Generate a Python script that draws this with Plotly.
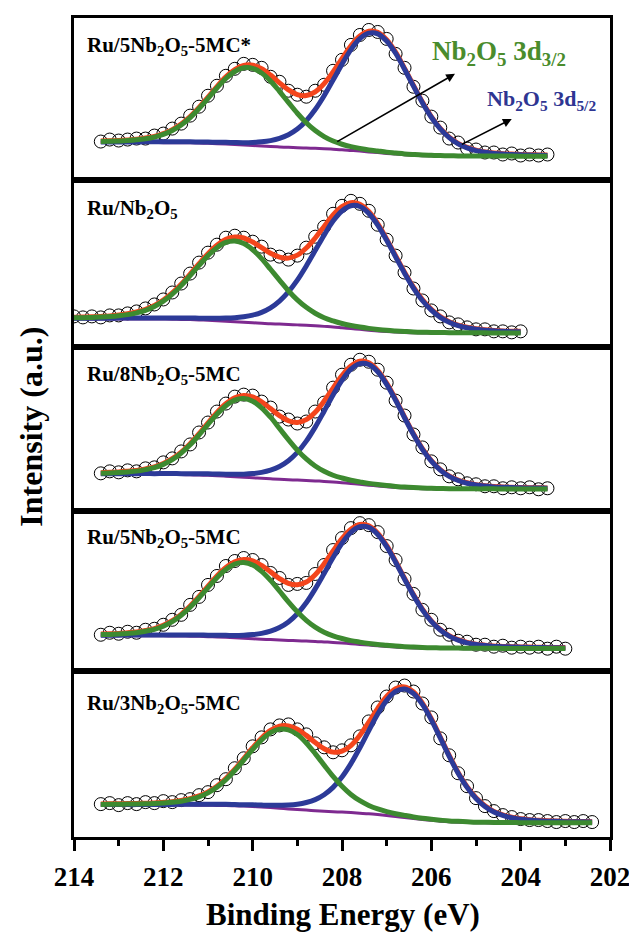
import plotly.graph_objects as go

# ---------------- data ----------------
E_STEP = 0.2  # eV spacing of the acquisition grid

sample_labels = [
    "Ru/5Nb<sub>2</sub>O<sub>5</sub>-5MC*",
    "Ru/Nb<sub>2</sub>O<sub>5</sub>",
    "Ru/8Nb<sub>2</sub>O<sub>5</sub>-5MC",
    "Ru/5Nb<sub>2</sub>O<sub>5</sub>-5MC",
    "Ru/3Nb<sub>2</sub>O<sub>5</sub>-5MC",
]
energy_start = [213.4, 214.2, 213.4, 213.4, 213.4]  # first binding energy of each scan (eV)

# ---- panel 1 : Ru/5Nb2O5-5MC* ----
counts_p1 = [39, 41, 40, 41, 42, 42, 45, 47, 52, 57, 65, 74, 85, 95, 105, 112, 117, 116, 113, 104,
             99, 90, 86, 84, 90, 96, 110, 121, 136, 146, 151, 149, 142, 127, 113, 94, 80, 64, 53, 42,
             38, 32, 31, 28, 28, 26, 27, 25, 26, 25, 26]
nb3d32_p1 = [1.1, 1.3, 1.6, 2.0, 2.7, 3.8, 5.5, 8.2, 12.2, 17.8, 25.3, 34.6, 45.1, 55.8, 65.8, 73.3, 77.5,
             77.5, 73.3, 65.8, 55.8, 45.1, 34.6, 25.3, 17.8, 12.2, 8.2, 5.5, 3.8, 2.7, 2.0, 1.6, 1.3, 1.1,
             0.9, 0.8, 0.7, 0.7, 0.6, 0.5, 0.5, 0.5, 0.5, 0.4, 0.4, 0.4, 0.4, 0.3, 0.3, 0.3, 0.3]
nb3d52_p1 = [0.5, 0.5, 0.5, 0.6, 0.6, 0.7, 0.7, 0.8, 0.8, 0.9, 1.0, 1.1, 1.3, 1.4, 1.7, 2.0, 2.4, 3.1, 4.2,
             5.9, 8.5, 12.6, 18.7, 27.4, 38.9, 53.2, 69.4, 85.9, 101.2, 112.8, 119.2, 119.2, 112.8, 101.2,
             85.9, 69.4, 53.2, 38.9, 27.4, 18.7, 12.6, 8.5, 5.9, 4.2, 3.1, 2.4, 2.0, 1.7, 1.4, 1.3, 1.1]
backgr_p1 = [38.0, 38.0, 38.0, 38.0, 38.0, 38.0, 38.0, 37.9, 37.9, 37.8, 37.7, 37.5, 37.2, 36.9, 36.5,
             36.0, 35.5, 35.0, 34.5, 34.0, 33.6, 33.2, 32.8, 32.5, 32.2, 31.8, 31.3, 30.8, 30.1, 29.4,
             28.6, 27.9, 27.1, 26.4, 25.7, 25.2, 24.8, 24.5, 24.3, 24.2, 24.1, 24.1, 24.0, 24.0, 24.0,
             24.0, 24.0, 24.0, 24.0, 24.0, 24.0]

# ---- panel 2 : Ru/Nb2O5 ----
counts_p2 = [29, 31, 30, 31, 30, 32, 32, 34, 36, 39, 43, 48, 55, 64, 74, 85, 95, 103, 110, 112,
             110, 106, 101, 93, 91, 88, 92, 100, 111, 121, 134, 142, 147, 144, 137, 123, 108, 92, 75, 59,
             47, 37, 31, 25, 23, 20, 18, 18, 16, 16, 15, 16]
nb3d32_p2 = [1.0, 1.1, 1.2, 1.5, 1.8, 2.3, 3.1, 4.3, 6.1, 8.7, 12.6, 18.0, 25.1, 33.9, 44.1, 54.7, 64.9,
             73.3, 79.0, 81.0, 79.0, 73.3, 64.9, 54.7, 44.1, 33.9, 25.1, 18.0, 12.6, 8.7, 6.1, 4.3, 3.1,
             2.3, 1.8, 1.5, 1.2, 1.1, 1.0, 0.8, 0.8, 0.7, 0.7, 0.6, 0.6, 0.5, 0.5, 0.5, 0.4, 0.4, 0.4, 0.4]
nb3d52_p2 = [0.6, 0.6, 0.6, 0.6, 0.7, 0.7, 0.8, 0.8, 0.9, 1.0, 1.0, 1.1, 1.2, 1.4, 1.6, 1.7, 2.0, 2.5,
             3.1, 4.1, 5.6, 7.7, 11.0, 16.0, 23.1, 32.7, 44.9, 59.5, 75.5, 91.6, 106.3, 117.2, 123.3,
             123.3, 117.2, 106.3, 91.6, 75.5, 59.5, 44.9, 32.7, 23.1, 16.0, 11.0, 7.7, 5.6, 4.1, 3.1,
             2.5, 2.0, 1.7, 1.6]
backgr_p2 = [28.5, 28.5, 28.5, 28.5, 28.5, 28.5, 28.5, 28.5, 28.5, 28.4, 28.4, 28.3, 28.2, 28.0, 27.8,
             27.5, 27.1, 26.7, 26.2, 25.6, 25.1, 24.6, 24.1, 23.6, 23.3, 22.9, 22.5, 22.1, 21.6, 21.0,
             20.4, 19.6, 18.8, 18.0, 17.2, 16.4, 15.8, 15.3, 14.9, 14.6, 14.3, 14.2, 14.1, 14.1, 14.0,
             14.0, 14.0, 14.0, 14.0, 14.0, 14.0, 14.0]

# ---- panel 3 : Ru/8Nb2O5-5MC ----
counts_p3 = [38, 40, 39, 41, 40, 43, 44, 49, 53, 60, 67, 79, 89, 100, 108, 115, 117, 116, 110, 104,
             95, 92, 88, 90, 100, 109, 124, 137, 147, 152, 150, 142, 129, 111, 96, 77, 64, 50, 42, 35,
             32, 28, 27, 25, 25, 23, 24, 23, 24, 22, 23]
nb3d32_p3 = [1.2, 1.4, 1.8, 2.4, 3.2, 4.7, 6.8, 10.1, 14.9, 21.6, 30.1, 40.2, 51.1, 61.8, 70.8, 76.9,
             79.0, 76.9, 70.8, 61.8, 51.1, 40.2, 30.1, 21.6, 14.9, 10.1, 6.8, 4.7, 3.2, 2.4, 1.8, 1.4,
             1.2, 1.0, 0.9, 0.8, 0.7, 0.6, 0.6, 0.5, 0.5, 0.5, 0.4, 0.4, 0.4, 0.3, 0.3, 0.3, 0.3, 0.3, 0.3]
nb3d52_p3 = [0.5, 0.6, 0.6, 0.7, 0.7, 0.8, 0.8, 0.9, 1.0, 1.0, 1.2, 1.3, 1.5, 1.7, 2.0, 2.4, 3.2, 4.3,
             6.0, 8.7, 12.8, 19.0, 27.8, 39.5, 54.0, 70.5, 87.4, 102.8, 114.7, 121.1, 121.1, 114.7,
             102.8, 87.4, 70.5, 54.0, 39.5, 27.8, 19.0, 12.8, 8.7, 6.0, 4.3, 3.2, 2.4, 2.0, 1.7, 1.5,
             1.3, 1.2, 1.0]
backgr_p3 = [37.0, 37.0, 37.0, 37.0, 37.0, 37.0, 36.9, 36.9, 36.8, 36.7, 36.5, 36.3, 36.0, 35.6, 35.1,
             34.6, 34.0, 33.5, 33.0, 32.5, 32.0, 31.6, 31.2, 30.8, 30.4, 29.9, 29.3, 28.6, 27.8, 27.0,
             26.1, 25.3, 24.5, 23.9, 23.3, 22.9, 22.6, 22.4, 22.2, 22.1, 22.1, 22.0, 22.0, 22.0, 22.0,
             22.0, 22.0, 22.0, 22.0, 22.0, 22.0]

# ---- panel 4 : Ru/5Nb2O5-5MC ----
counts_p4 = [36, 38, 37, 39, 38, 41, 42, 46, 51, 56, 66, 74, 86, 95, 105, 110, 113, 111, 106, 98,
             93, 86, 87, 88, 97, 106, 121, 133, 143, 148, 146, 139, 125, 111, 92, 77, 61, 51, 41, 36,
             30, 29, 26, 26, 24, 25, 23, 24, 23, 24, 22, 24, 22]
nb3d32_p4 = [1.2, 1.3, 1.7, 2.3, 3.1, 4.5, 6.5, 9.7, 14.3, 20.8, 29.0, 38.7, 49.2, 59.5, 68.1, 74.0,
             76.0, 74.0, 68.1, 59.5, 49.2, 38.7, 29.0, 20.8, 14.3, 9.7, 6.5, 4.5, 3.1, 2.3, 1.7, 1.3,
             1.2, 1.0, 0.9, 0.8, 0.7, 0.6, 0.6, 0.5, 0.5, 0.5, 0.4, 0.4, 0.4, 0.3, 0.3, 0.3, 0.3, 0.3,
             0.3, 0.3, 0.3]
nb3d52_p4 = [0.5, 0.6, 0.6, 0.7, 0.7, 0.8, 0.8, 0.9, 1.0, 1.0, 1.2, 1.3, 1.5, 1.7, 2.0, 2.3, 3.1, 4.2,
             5.9, 8.5, 12.5, 18.5, 27.1, 38.5, 52.7, 68.7, 85.2, 100.2, 111.8, 118.1, 118.1, 111.8,
             100.2, 85.2, 68.7, 52.7, 38.5, 27.1, 18.5, 12.5, 8.5, 5.9, 4.2, 3.1, 2.3, 2.0, 1.7, 1.5,
             1.3, 1.2, 1.0, 0.9, 0.8]
backgr_p4 = [35.0, 35.0, 35.0, 35.0, 35.0, 35.0, 34.9, 34.9, 34.8, 34.7, 34.6, 34.4, 34.1, 33.8, 33.4,
             32.9, 32.4, 32.0, 31.5, 31.1, 30.7, 30.3, 30.0, 29.6, 29.3, 28.8, 28.3, 27.7, 27.0, 26.3,
             25.6, 24.9, 24.2, 23.6, 23.1, 22.8, 22.5, 22.3, 22.2, 22.1, 22.1, 22.0, 22.0, 22.0, 22.0,
             22.0, 22.0, 22.0, 22.0, 22.0, 22.0, 22.0, 22.0]

# ---- panel 5 : Ru/3Nb2O5-5MC ----
counts_p5 = [33, 34, 32, 34, 33, 35, 34, 36, 35, 37, 38, 42, 45, 52, 58, 69, 79, 91, 100, 108,
             112, 113, 108, 103, 94, 90, 85, 87, 92, 101, 116, 130, 141, 150, 152, 146, 134, 120, 99, 82,
             64, 51, 39, 31, 26, 22, 20, 18, 17, 17, 16, 15, 16, 15, 16, 15]
nb3d32_p5 = [0.7, 0.8, 0.8, 1.0, 1.1, 1.3, 1.6, 2.1, 2.8, 3.9, 5.7, 8.4, 12.5, 18.2, 25.9, 35.4, 46.2,
             57.3, 67.4, 75.2, 79.4, 79.4, 75.2, 67.4, 57.3, 46.2, 35.4, 25.9, 18.2, 12.5, 8.4, 5.7, 3.9,
             2.8, 2.1, 1.6, 1.3, 1.1, 1.0, 0.8, 0.8, 0.7, 0.6, 0.6, 0.5, 0.5, 0.5, 0.4, 0.4, 0.4, 0.3,
             0.3, 0.3, 0.3, 0.3, 0.3]
nb3d52_p5 = [0.5, 0.5, 0.5, 0.5, 0.5, 0.6, 0.6, 0.7, 0.7, 0.8, 0.8, 0.9, 1.0, 1.1, 1.2, 1.3, 1.4, 1.7,
             1.9, 2.3, 3.0, 3.9, 5.3, 7.6, 11.1, 16.5, 24.4, 35.2, 49.1, 65.7, 83.5, 100.9, 115.6, 125.5,
             129.0, 125.5, 115.6, 100.9, 83.5, 65.7, 49.1, 35.2, 24.4, 16.5, 11.1, 7.6, 5.3, 3.9, 3.0,
             2.3, 1.9, 1.7, 1.4, 1.3, 1.2, 1.1]
backgr_p5 = [32.0, 32.0, 32.0, 32.0, 32.0, 32.0, 32.0, 32.0, 32.0, 32.0, 32.0, 31.9, 31.8, 31.7, 31.6,
             31.3, 31.0, 30.6, 30.1, 29.5, 28.9, 28.2, 27.6, 27.0, 26.4, 25.9, 25.4, 25.0, 24.5, 23.9,
             23.3, 22.5, 21.6, 20.6, 19.6, 18.5, 17.5, 16.7, 15.9, 15.3, 14.9, 14.6, 14.3, 14.2, 14.1,
             14.1, 14.0, 14.0, 14.0, 14.0, 14.0, 14.0, 14.0, 14.0, 14.0, 14.0]

x_tick_values = [214, 212, 210, 208, 206, 204, 202]
x_tick_labels = ["214", "212", "210", "208", "206", "204", "202"]

counts = [counts_p1, counts_p2, counts_p3, counts_p4, counts_p5]
nb3d32 = [nb3d32_p1, nb3d32_p2, nb3d32_p3, nb3d32_p4, nb3d32_p5]
nb3d52 = [nb3d52_p1, nb3d52_p2, nb3d52_p3, nb3d52_p4, nb3d52_p5]
backgr = [backgr_p1, backgr_p2, backgr_p3, backgr_p4, backgr_p5]

# ---------------- styling ----------------
FONT = "Liberation Serif"
C_FIT = "#F4451C"
C_32 = "#3D8A30"
C_52 = "#2C3A98"
C_BG = "#7E2A90"
C_T32 = "#4A8C2C"
C_T52 = "#2E3592"

# the page body has an 8 px margin: figure is placed at page (8, 8)
BODY = 8
W, H = 629, 926
PLOT_L, PLOT_R, PLOT_T, PLOT_B = 74, 612, 15, 837  # plot area in page pixels
ML = PLOT_L - BODY
MT = PLOT_T - BODY
MR = W - (PLOT_R - BODY)
MB = H - (PLOT_B - BODY)
plot_h = PLOT_B - PLOT_T
plot_w = PLOT_R - PLOT_L
# panel separators (page pixel rows, top to bottom)
seps = [15, 178, 345.5, 510, 670, 837]


def py(ypx):
    return (PLOT_B - ypx) / plot_h


def px(xpx):
    return (xpx - PLOT_L) / plot_w


fig = go.Figure()
for i in range(5):
    xa = "x" if i == 0 else f"x{i+1}"
    ya = "y" if i == 0 else f"y{i+1}"
    n = len(counts[i])
    energy = [round(energy_start[i] - E_STEP * k, 1) for k in range(n)]
    bg = backgr[i]
    green = [b + p for b, p in zip(bg, nb3d32[i])]
    blue = [b + p for b, p in zip(bg, nb3d52[i])]
    fit = [b + p + q for b, p, q in zip(bg, nb3d32[i], nb3d52[i])]
    fig.add_trace(go.Scatter(x=energy, y=counts[i], mode="markers", xaxis=xa, yaxis=ya,
                             marker=dict(symbol="circle-open", size=13, color="black",
                                         line=dict(width=1, color="black")),
                             showlegend=False, hoverinfo="skip"))
    fig.add_trace(go.Scatter(x=energy, y=bg, mode="lines", xaxis=xa, yaxis=ya,
                             line=dict(color=C_BG, width=3, shape="spline"), showlegend=False))
    fig.add_trace(go.Scatter(x=energy, y=fit, mode="lines", xaxis=xa, yaxis=ya,
                             line=dict(color=C_FIT, width=5, shape="spline"), showlegend=False))
    fig.add_trace(go.Scatter(x=energy, y=blue, mode="lines", xaxis=xa, yaxis=ya,
                             line=dict(color=C_52, width=5, shape="spline"), showlegend=False))
    fig.add_trace(go.Scatter(x=energy, y=green, mode="lines", xaxis=xa, yaxis=ya,
                             line=dict(color=C_32, width=5, shape="spline"), showlegend=False))

    top, bot = seps[i], seps[i + 1]
    xkey = "xaxis" if i == 0 else f"xaxis{i+1}"
    ykey = "yaxis" if i == 0 else f"yaxis{i+1}"
    last = i == 4
    xdict = dict(domain=[0, 1], range=[214, 202], anchor=ya, showline=True, mirror=True,
                 linewidth=3, linecolor="black", showgrid=False, zeroline=False,
                 showticklabels=last, ticks="outside" if last else "")
    if i > 0:
        xdict["matches"] = "x"
    if last:
        xdict.update(tickvals=x_tick_values, ticktext=x_tick_labels, ticklen=11, tickwidth=3,
                     tickcolor="black", ticklabelstandoff=3,
                     tickfont=dict(family=FONT, size=27, color="black", weight="bold"),
                     minor=dict(ticks="outside", ticklen=6, tickwidth=3, tickcolor="black",
                                dtick=1, tick0=0, showgrid=False))
    ydict = dict(domain=[py(bot), py(top)], range=[0, bot - top], anchor=xa, showline=True,
                 mirror=True, linewidth=3, linecolor="black", showgrid=False, zeroline=False,
                 showticklabels=False, ticks="")
    fig.update_layout(**{xkey: xdict, ykey: ydict})

# sample labels
label_y = [41, 204.5, 371, 535, 702]
ann = []
for i in range(5):
    ann.append(dict(text=f"<b>{sample_labels[i]}</b>", xref="paper", yref="paper",
                    x=px(85), y=py(label_y[i] + 2), xanchor="left", yanchor="middle",
                    showarrow=False, font=dict(family=FONT, size=21, color="black")))

# peak labels + arrows (panel 1)
ann.append(dict(text="<b>Nb<sub>2</sub>O<sub>5</sub> 3d<sub>3/2</sub></b>", xref="paper", yref="paper",
                x=px(431), y=py(50), xanchor="left", yanchor="middle", showarrow=False,
                font=dict(family=FONT, size=27, color=C_T32)))
ann.append(dict(text="<b>Nb<sub>2</sub>O<sub>5</sub> 3d<sub>5/2</sub></b>", xref="paper", yref="paper",
                x=px(487), y=py(97), xanchor="left", yanchor="middle", showarrow=False,
                font=dict(family=FONT, size=22, color=C_T52)))
ann.append(dict(text="", xref="x", yref="y", axref="x", ayref="y",
                x=205.47, y=107, ax=208.14, ay=38, showarrow=True,
                arrowhead=2, arrowsize=1.1, arrowwidth=1.6, arrowcolor="black"))
ann.append(dict(text="", xref="x", yref="y", axref="x", ayref="y",
                x=204.2, y=61.6, ax=205.35, ay=35.4, showarrow=True,
                arrowhead=2, arrowsize=1.1, arrowwidth=1.6, arrowcolor="black"))

# axis titles
ann.append(dict(text="<b>Binding Energy (eV)</b>", xref="paper", yref="paper",
                x=px(344), y=py(915), xanchor="center", yanchor="middle", showarrow=False,
                font=dict(family=FONT, size=31, color="black")))
ann.append(dict(text="<b>Intensity (a.u.)</b>", xref="paper", yref="paper",
                x=px(30), y=py(425), xanchor="center", yanchor="middle", showarrow=False,
                textangle=-90, font=dict(family=FONT, size=32, color="black")))

fig.update_layout(width=W, height=H, margin=dict(l=ML, r=MR, t=MT, b=MB),
                  paper_bgcolor="white", plot_bgcolor="white", annotations=ann,
                  font=dict(family=FONT, color="black"))

fig.write_html("out.html")
